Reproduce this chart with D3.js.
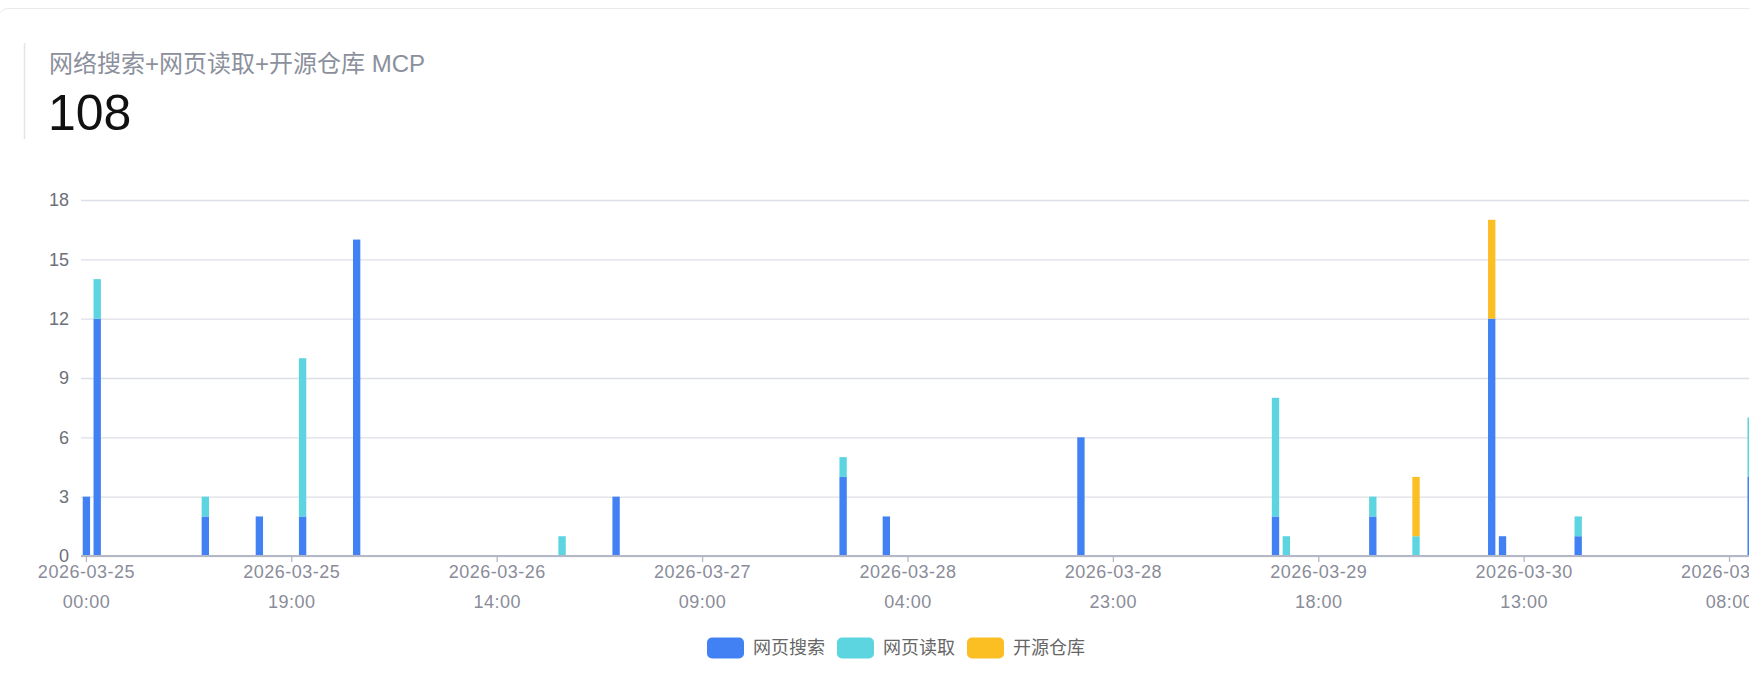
<!DOCTYPE html>
<html>
<head>
<meta charset="utf-8">
<script src="https://cdn.jsdelivr.net/npm/d3@7"></script>
<style>
    html, body { margin: 0; padding: 0; background: #fff; overflow: hidden; }
    #card { width: 1749px; height: 684px; }
</style>
</head>
<body>
<div id="card"></div>
<script>
// ── Data ──
const TITLE = '网络搜索+网页读取+开源仓库 MCP';
const SERIES = ['网页搜索', '网页读取', '开源仓库'];
const COLORS = ['#4181f4', '#5cd5e0', '#fbbf24'];

// hourly buckets from the start hour, one category per hour
const START_HOUR = '2026-03-25T00:00:00Z';
const HOUR_COUNT = 155;

// hours with at least one call (all other hours are 0)
const activeHours = [
    '2026-03-25 00:00', '2026-03-25 01:00', '2026-03-25 11:00', '2026-03-25 16:00',
    '2026-03-25 20:00', '2026-03-26 01:00', '2026-03-26 20:00', '2026-03-27 01:00',
    '2026-03-27 22:00', '2026-03-28 02:00', '2026-03-28 20:00', '2026-03-29 14:00',
    '2026-03-29 15:00', '2026-03-29 23:00', '2026-03-30 03:00', '2026-03-30 10:00',
    '2026-03-30 11:00', '2026-03-30 18:00', '2026-03-31 10:00',
];
const searchCalls = [3, 12, 2, 2, 2, 16, 0, 3, 4, 2, 6, 2, 0, 2, 0, 12, 1, 1, 4];
const readCalls   = [0, 2, 1, 0, 8, 0, 1, 0, 1, 0, 0, 6, 1, 1, 1, 0, 0, 1, 3];
const repoCalls   = [0, 0, 0, 0, 0, 0, 0, 0, 0, 0, 0, 0, 0, 0, 3, 5, 0, 0, 0];

const yTicks = [0, 3, 6, 9, 12, 15, 18];
const LABEL_EVERY = 19;

// ── Build table ──
const fmt = d3.utcFormat('%Y-%m-%d %H:%M');
const startDate = new Date(START_HOUR);
const categories = d3.utcHour.range(startDate, d3.utcHour.offset(startDate, HOUR_COUNT)).map(fmt);

const lookup = {};
activeHours.forEach((h, i) => {
    lookup[h] = { '网页搜索': searchCalls[i], '网页读取': readCalls[i], '开源仓库': repoCalls[i] };
});
const table = categories.map(c => Object.assign({ hour: c },
    lookup[c] || { '网页搜索': 0, '网页读取': 0, '开源仓库': 0 }));

const total = d3.sum(searchCalls) + d3.sum(readCalls) + d3.sum(repoCalls);

// ── Layout ──
const FONT = "Arial, 'Liberation Sans', 'Noto Sans CJK SC', sans-serif";
const width = 1749, height = 684;
const margin = { top: 200, left: 81, bottom: 128 };
const step = 10.81;
const innerW = HOUR_COUNT * step;
const axisY = height - margin.bottom;

const svg = d3.select('#card')
    .append('svg')
    .attr('width', width)
    .attr('height', height)
    .style('display', 'block');

// card
svg.append('rect')
    .attr('x', -2).attr('y', 8.5)
    .attr('width', width + 60).attr('height', height + 40)
    .attr('rx', 10)
    .attr('fill', '#fff')
    .attr('stroke', '#e8eaee');

// header
svg.append('line')
    .attr('x1', 24.5).attr('x2', 24.5)
    .attr('y1', 43).attr('y2', 139)
    .attr('stroke', '#e3e5ea')
    .attr('stroke-width', 1.5);

svg.append('text')
    .attr('x', 49).attr('y', 72)
    .attr('font-family', FONT)
    .attr('font-size', '24px')
    .attr('fill', '#8b909c')
    .text(TITLE);

svg.append('text')
    .attr('x', 48).attr('y', 130)
    .attr('font-family', FONT)
    .attr('font-size', '50px')
    .attr('fill', '#111')
    .text(total);

// ── Scales ──
const x = d3.scaleBand()
    .domain(categories)
    .range([margin.left, margin.left + innerW])
    .paddingInner(0.32)
    .paddingOuter(0.16);

const y = d3.scaleLinear()
    .domain([0, 18])
    .range([axisY, margin.top]);

// grid lines + y labels
const yAxis = d3.axisLeft(y)
    .tickValues(yTicks)
    .tickSize(-innerW)
    .tickPadding(12);

const gy = svg.append('g')
    .attr('transform', `translate(${margin.left},0)`)
    .call(yAxis);
gy.select('.domain').remove();
gy.selectAll('.tick line').attr('stroke', '#dcdfe7').attr('stroke-width', 1.3);
gy.selectAll('.tick text')
    .attr('font-family', FONT)
    .attr('font-size', '18px')
    .attr('fill', '#6e7079');

// stacked bars
const stack = d3.stack().keys(SERIES);
const layers = stack(table);

svg.append('g')
    .selectAll('g')
    .data(layers)
    .join('g')
    .attr('fill', (d, i) => COLORS[i])
    .selectAll('rect')
    .data(d => d.filter(v => v[1] > v[0]))
    .join('rect')
    .attr('x', d => x(d.data.hour))
    .attr('width', x.bandwidth())
    .attr('y', d => y(d[1]))
    .attr('height', d => y(d[0]) - y(d[1]));

// x axis
const tickCats = categories.filter((c, i) => i % LABEL_EVERY === 0);
const xAxis = d3.axisBottom(x)
    .tickValues(tickCats)
    .tickSize(6)
    .tickFormat('');

const gx = svg.append('g')
    .attr('transform', `translate(0,${axisY})`)
    .call(xAxis);
gx.select('.domain')
    .attr('stroke', '#b4b7c6')
    .attr('stroke-width', 2)
    .attr('d', `M${margin.left},0H${margin.left + innerW}`);
gx.selectAll('.tick line').attr('stroke', '#b4b7c6').attr('stroke-width', 1.3);

gx.selectAll('.tick').each(function (d) {
    const [day, time] = d.split(' ');
    const t = d3.select(this).append('text')
        .attr('text-anchor', 'middle')
        .attr('font-family', FONT)
        .attr('font-size', '18px')
        .attr('letter-spacing', '0.5px')
        .attr('fill', '#8a8c99');
    t.append('tspan').attr('x', 0).attr('y', 22).text(day);
    t.append('tspan').attr('x', 0).attr('y', 52).text(time);
});

// ── Legend ──
const legendCenter = 896;
const legend = svg.append('g').attr('transform', `translate(0,${height - 36})`);
const items = legend.selectAll('g')
    .data(SERIES)
    .join('g');
items.append('rect')
    .attr('width', 37).attr('height', 21)
    .attr('y', -10.5)
    .attr('rx', 5)
    .attr('fill', (d, i) => COLORS[i]);
items.append('text')
    .attr('x', 46)
    .attr('dy', '0.35em')
    .attr('font-family', FONT)
    .attr('font-size', '18px')
    .attr('fill', '#666')
    .text(d => d);

let offset = 0;
const widths = [];
items.each(function () {
    const w = 46 + d3.select(this).select('text').node().getComputedTextLength();
    widths.push(w);
});
const totalW = d3.sum(widths) + 12 * (widths.length - 1);
items.attr('transform', (d, i) => {
    const tx = legendCenter - totalW / 2 + offset;
    offset += widths[i] + 12;
    return `translate(${tx},0)`;
});
</script>
</body>
</html>
